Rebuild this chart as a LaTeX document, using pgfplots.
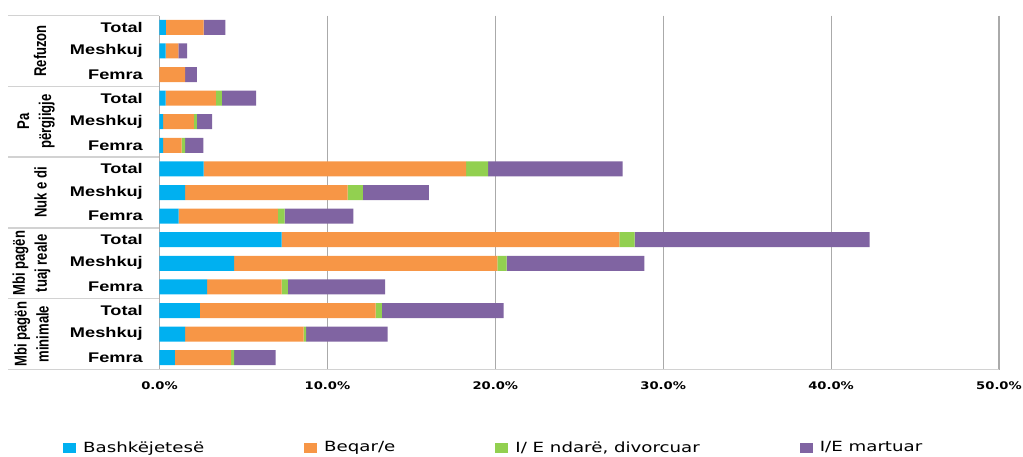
\documentclass[border=0pt]{standalone}
\usepackage{pgfplots}
\usepackage{pgfplotstable}
\pgfplotsset{compat=1.18}
\usepackage{fontspec}
\newfontfamily\catfont[FakeStretch=1.3]{Liberation Sans}
\newfontfamily\grpfont[FakeStretch=0.77]{Liberation Sans}
\newfontfamily\tickfont[FakeStretch=1.25]{DejaVu Sans}
\newfontfamily\legfont[FakeStretch=1.3]{DejaVu Sans}
\definecolor{cblue}{RGB}{0,176,240}
\definecolor{corange}{RGB}{247,150,70}
\definecolor{cgreen}{RGB}{146,208,80}
\definecolor{cpurple}{RGB}{128,100,162}
\definecolor{sepgray}{RGB}{210,210,210}
\definecolor{gridgray}{RGB}{170,170,170}
\tikzset{grouplabel/.style={rotate=90, font=\grpfont\bfseries\fontsize{17}{22}\selectfont, align=center}}

\pgfplotstableread{
row a b c d
1 0.38 2.25 0 1.29
2 0.37 0.75 0 0.53
3 0 1.52 0 0.71
4 0.37 2.99 0.36 2.04
5 0.21 1.84 0.18 0.91
6 0.21 1.11 0.20 1.09
7 2.63 15.63 1.31 8.02
8 1.52 9.68 0.91 3.93
9 1.14 5.91 0.40 4.09
10 7.27 20.12 0.91 13.99
11 4.45 15.68 0.55 8.20
12 2.83 4.44 0.38 5.79
13 2.41 10.46 0.37 7.25
14 1.52 7.06 0.16 4.84
15 0.92 3.35 0.18 2.47
}\datatable

\begin{document}
\begin{tikzpicture}
\useasboundingbox (0,0) rectangle (1023pt,-456pt);
\begin{axis}[
  at={(159.5pt,-369.5pt)}, anchor=south west,
  scale only axis, width=839.5pt, height=354pt,
  xbar stacked, bar width=15pt,
  xmin=0, xmax=50, ymin=0.5, ymax=15.5, y dir=reverse,
  xtick={0,10,20,30,40,50},
  xticklabels={0.0\%,10.0\%,20.0\%,30.0\%,40.0\%,50.0\%},
  ytick={1,...,15},
  yticklabels={Total,Meshkuj,Femra,Total,Meshkuj,Femra,Total,Meshkuj,Femra,Total,Meshkuj,Femra,Total,Meshkuj,Femra},
  major tick length=0pt,
  axis line style={draw=none},
  xmajorgrids, grid style={color=gridgray, line width=1.2pt},
  xticklabel style={font=\tickfont\bfseries\fontsize{10.5}{12}\selectfont, inner sep=0pt, anchor=north, yshift=-12pt},
  yticklabel style={font=\catfont\bfseries\fontsize{14}{16}\selectfont, inner sep=0pt, anchor=east, xshift=-16.5pt},
  clip=false,
  legend columns=4,
  legend style={at={(0,0)}, anchor=west, xshift=-96.5pt, yshift=-78pt, draw=none, inner sep=0pt,
    font=\legfont\fontsize{14}{16}\selectfont,
    /tikz/every odd column/.append style={column sep=5pt},
    /tikz/every even column/.append style={column sep=98pt},
    cells={anchor=west}},
  legend image code/.code={\fill[#1] (0pt,-5pt) rectangle (13pt,5pt);},
]
\addplot[fill=cblue, draw=none] table[x=a, y=row] {\datatable};
\addlegendentry{Bashkëjetesë}
\addplot[fill=corange, draw=none] table[x=b, y=row] {\datatable};
\addlegendentry{Beqar/e}
\addplot[fill=cgreen, draw=none] table[x=c, y=row] {\datatable};
\addlegendentry{I/ E ndarë, divorcuar}
\addplot[fill=cpurple, draw=none] table[x=d, y=row] {\datatable};
\addlegendentry{I/E martuar}

\draw[sepgray, line width=1.5pt] (axis cs:50,15.5) -- ([xshift=-151.5pt]axis cs:0,15.5);
\draw[sepgray, line width=1.5pt] (axis cs:0,0.5) -- ([xshift=-151.5pt]axis cs:0,0.5);
\draw[sepgray, line width=1.5pt] (axis cs:0,3.5) -- ([xshift=-151.5pt]axis cs:0,3.5);
\draw[sepgray, line width=1.5pt] (axis cs:0,6.5) -- ([xshift=-151.5pt]axis cs:0,6.5);
\draw[sepgray, line width=1.5pt] (axis cs:0,9.5) -- ([xshift=-151.5pt]axis cs:0,9.5);
\draw[sepgray, line width=1.5pt] (axis cs:0,12.5) -- ([xshift=-151.5pt]axis cs:0,12.5);
\node[grouplabel] at ([xshift=-119.5pt]axis cs:0,2) {Refuzon};
\node[grouplabel] at ([xshift=-123.5pt]axis cs:0,5) {Pa\\përgjigje};
\node[grouplabel] at ([xshift=-119pt]axis cs:0,8) {Nuk e di};
\node[grouplabel] at ([xshift=-128pt]axis cs:0,11) {Mbi pagën\\tuaj reale};
\node[grouplabel] at ([xshift=-128pt]axis cs:0,14) {Mbi pagën\\minimale};
\end{axis}
\end{tikzpicture}
\end{document}
